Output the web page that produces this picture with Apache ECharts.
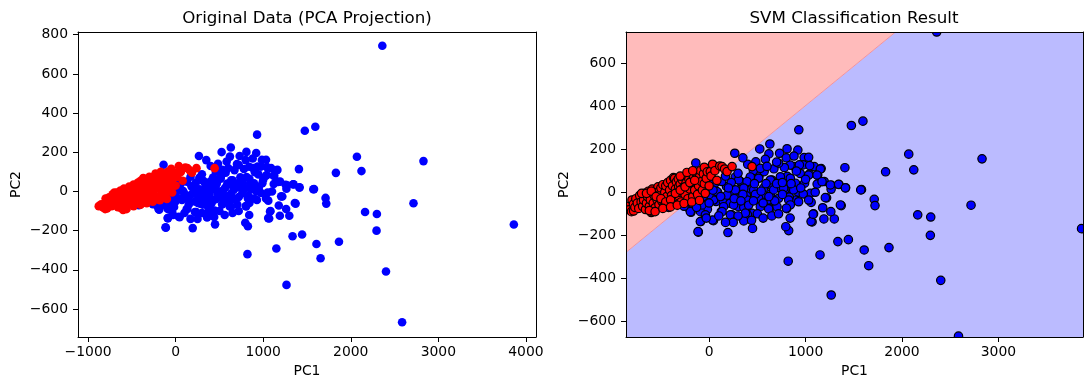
<!DOCTYPE html>
<html><head><meta charset="utf-8">
<script src="https://cdn.jsdelivr.net/npm/echarts@6/dist/echarts.min.js"></script>
<style>html,body{margin:0;padding:0;background:#fff}#c{width:1089px;height:390px}</style>
</head><body><div id="c"></div><script>
// ---- data (PC1, PC2) ----
const bluePoints = [
[2360,744],[1595,330],[1475,310],[930,290],[2070,177],[2830,155],[2122,104],[1830,95],[1408,114],[1580,12],[1712,-33],[1720,-62],[2716,-60],[1370,-62],[2163,-105],[2298,-115],[2294,-200],[3862,-169],[1865,-257],[1608,-268],[1444,-220],[1335,-229],[1655,-341],[2402,-409],[1150,-291],[1266,-477],[820,-320],[2586,-668],
[1068,-138],[1083,-100],[1298,-124],[1190,-124],[1262,-90],[1178,-72],[1218,-26],[1058,-47],[825,-178],[795,-160],[840,-120],[805,-76],[450,-168],[195,-187],[-112,-185],[45,-132],[-88,-136],[-138,136],[266,181],
[525,201],[630,224],[620,178],[731,181],[808,202],[920,196],[985,161],[975,127],[885,119],[840,126],[780,115],[672,109],[484,141],[1090,119],[1162,110],[1040,84],[1126,80],[810,74],[945,87],[990,42],[1120,38],[1193,50],[1270,32],[1345,36],[1415,21],[1265,14],[895,42],[790,14],[860,14],[925,0],[1050,-5],[976,-8],[893,-36],[831,-22],[730,22],[650,57],[654,26],[636,-9],[549,-20],[513,-31],[614,-50],[632,-78],[517,76],[426,65],[459,101],[571,96],[387,26],[325,50],[271,70],[434,11],[387,-17],[325,14],[271,-12],[217,3],[181,26],[130,50],[61,42],[90,-2],[72,-43],[145,-40],[217,-51],[282,-62],[235,-105],[126,-90],[-18,-79],[-90,-90],[-188,-93],[-210,-74],[-36,-36],[-108,-48],[445,-98],[380,-82],[361,-129],[398,-105],[307,-67],[-412,-67],
[583,153],[531,111],[427,71],[306,57],[393,49],[514,65],[635,57],[739,72],[842,65],[1032,80],[272,11],[359,19],[462,11],[565,19],[669,11],[773,19],[877,11],[186,-13],[289,-28],[393,-36],[514,-28],[617,-36],[721,-28],[825,-36],[928,-44],[1032,-36],[150,-67],[254,-59],[359,-70],[531,-67],[704,-67],[842,-59],[721,135],[1032,162],[1043,124],[936,127],
[1153,108],[1119,80],[1171,49],[1257,34],[1343,37],[1413,20],[1572,11],[1205,-25],[1361,-59],
[220,-105],[359,-133],[134,-90],[376,-97],[617,-77],[801,-74],[1057,-136],[1078,-102],
[-91,-136],[-115,-183],[36,-129],[-39,-105],[-195,-90],
[57,42],[82,3],[-22,3],[47,-36],[-74,-59],[-177,-51],[-420,-70],[-300,-40],[-250,-20],[-150,-10],[-60,20],[0,-10],[-350,-55],[-260,-65],
[20,60],[170,75],[230,45],[300,88],[350,-10],[410,-60],[470,40],[480,-10],[560,-50],[590,40],[700,40],[680,-40],[760,-10],[760,45],[850,40],[905,98],[950,20],[1000,60],[1100,0],[600,120],[400,130],[350,160],[120,-20],[40,10],[0,-50],[500,-100],[560,-120],[300,-110],[250,-140],[170,-140],[-30,-120],[650,-110],[720,-100],[700,140],[800,160],[880,168],[460,-40],[540,5],[620,-20],[200,20],[260,-30],[330,-40],[440,-130],[100,-110],[-130,-70],[-60,-20]
];
const redPoints = [
[-878,-75],[-850,-65],[-830,-82],[-805,-90],[-800,-36],[-783,-87],[-785,-55],[-770,-70],[-760,-30],[-745,-50],[-730,-75],[-720,-15],[-705,-45],[-690,-65],[-680,-36],[-670,-5],[-660,-80],[-650,-50],[-640,-20],[-630,5],[-620,-65],[-610,-35],[-600,-94],[-592,-90],[-590,15],[-580,-50],[-570,-15],[-560,-72],[-550,10],[-540,-35],[-530,25],[-524,3],[-520,-58],[-510,-10],[-500,20],[-490,-42],[-480,35],[-470,-62],[-460,0],[-450,30],[-444,-28],[-440,-20],[-430,45],[-420,-50],[-410,10],[-400,55],[-390,-15],[-380,30],[-370,68],[-360,-40],[-358,65],[-350,15],[-340,48],[-330,-22],[-320,62],[-316,26],[-316,-17],[-310,0],[-300,38],[-290,-45],[-280,58],[-270,20],[-260,72],[-250,-10],[-240,42],[-230,80],[-220,-30],[-210,60],[-200,15],[-195,46],[-190,88],[-180,40],[-170,-20],[-160,72],[-150,10],[-140,52],[-133,84],[-130,92],[-120,-10],[-110,30],[-100,72],[-90,100],[-80,50],[-70,10],[-60,85],[-50,116],[-50,40],[-40,-5],[-30,65],[-20,95],[0,30],[12,96],[20,75],[36,130],[60,100],[80,55],[110,122],[134,119],[160,108],[186,96],[238,119],[445,119],
[-700,-5],[-650,-5],[-600,5],[-550,-20],[-500,-30],[-450,-45],[-400,-35],[-350,-5],[-300,10],[-250,25],[-200,45],[-150,55],[-620,-85],[-560,-90],[-480,-75],[-400,-68],[-330,-60],[-260,-52],[-180,-45],[-100,-38],[-300,75],[-230,92],[-170,100]
];
const leftXTicks = [-1000,0,1000,2000,3000,4000];
const leftYTicks = [-600,-400,-200,0,200,400,600,800];
const rightXTicks = [0,1000,2000,3000];
const rightYTicks = [-600,-400,-200,0,200,400,600];
const leftXRange = [-1115, 4115];
const leftYRange = [-743, 814];
const rightXRange = [-862, 3877];
const rightYRange = [-672, 744];
const boundaryLine = [[-862,-279],[1933,744]];   // SVM decision boundary (edge to edge)

const FONT = 'DejaVu Sans';
const fmt = v => String(v).replace('-', '\u2212');
const txt = {fontFamily: FONT, fontSize: 13.9, color: '#000'};

function mainX(grid, range, ticks) {
  return {type:'value', gridIndex:grid, min:range[0], max:range[1], position:'bottom', z:10,
    name:'PC1', nameLocation:'middle', nameGap:27, nameTextStyle:txt,
    axisLine:{show:true, onZero:false, lineStyle:{color:'#000', width:1}},
    axisTick:{show:true, inside:false, length:5, customValues:ticks, lineStyle:{color:'#000', width:1}},
    axisLabel:Object.assign({show:true, customValues:ticks, formatter:fmt, margin:8}, txt),
    splitLine:{show:false}};
}
function mainY(grid, range, ticks) {
  return {type:'value', gridIndex:grid, min:range[0], max:range[1], position:'left', z:10,
    name:'PC2', nameLocation:'middle', nameGap:55, nameTextStyle:txt,
    axisLine:{show:true, onZero:false, lineStyle:{color:'#000', width:1}},
    axisTick:{show:true, inside:false, length:5, customValues:ticks, lineStyle:{color:'#000', width:1}},
    axisLabel:Object.assign({show:true, customValues:ticks, formatter:fmt, margin:10}, txt),
    splitLine:{show:false}};
}
function frame(type, grid, range, pos) {
  return {type:'value', gridIndex:grid, min:range[0], max:range[1], position:pos, z:10,
    axisLine:{show:true, onZero:false, lineStyle:{color:'#000', width:1}},
    axisTick:{show:false}, axisLabel:{show:false}, splitLine:{show:false}};
}

const redPoly = [[rightXRange[0], rightYRange[1]], boundaryLine[0], boundaryLine[1]];
const bluePoly = [boundaryLine[0], [rightXRange[0], rightYRange[0]], [rightXRange[1], rightYRange[0]], [rightXRange[1], rightYRange[1]], boundaryLine[1]];

function dot(fill) {
  return (params, api) => {
    const c = api.coord([api.value(0), api.value(1)]);
    return {type:'circle', shape:{cx:c[0], cy:c[1], r:4.2}, style:{fill:fill, stroke:'#000', lineWidth:1.2}};
  };
}

const chart = echarts.init(document.getElementById('c'), null, {renderer:'canvas'});
chart.setOption({
  animation:false,
  backgroundColor:'#fff',
  title:[
    {text:'Original Data (PCA Projection)', left:307, top:10, padding:0, textAlign:'center',
     textStyle:{fontFamily:FONT, fontSize:16.7, fontWeight:'normal', color:'#000'}},
    {text:'SVM Classification Result', left:854, top:10, padding:0, textAlign:'center',
     textStyle:{fontFamily:FONT, fontSize:16.7, fontWeight:'normal', color:'#000'}}
  ],
  grid:[
    {left:78, right:553, top:32, bottom:53, show:false},
    {left:626, right:6, top:32, bottom:53, show:false}
  ],
  xAxis:[ mainX(0, leftXRange, leftXTicks), frame('x',0,leftXRange,'top'),
          mainX(1, rightXRange, rightXTicks), frame('x',1,rightXRange,'top') ],
  yAxis:[ mainY(0, leftYRange, leftYTicks), frame('y',0,leftYRange,'right'),
          mainY(1, rightYRange, rightYTicks), frame('y',1,rightYRange,'right') ],
  series:[
    {type:'scatter', xAxisIndex:0, yAxisIndex:0, data:bluePoints, symbolSize:8.6, z:2,
     itemStyle:{color:'#0000ff', opacity:1}, silent:true},
    {type:'scatter', xAxisIndex:0, yAxisIndex:0, data:redPoints, symbolSize:8.6, z:3,
     itemStyle:{color:'#ff0000', opacity:1}, silent:true},
    {type:'custom', xAxisIndex:2, yAxisIndex:2, clip:true, z:1, silent:true, data:[[0,0]],
     renderItem:(params, api) => ({type:'group', children:[
       {type:'polygon', shape:{points:bluePoly.map(p => api.coord(p))}, style:{fill:'#bbbbff'}},
       {type:'polygon', shape:{points:redPoly.map(p => api.coord(p))}, style:{fill:'#ffbbbb'}},
       {type:'polyline', shape:{points:boundaryLine.map(p => api.coord(p))}, style:{stroke:'#f2939d', lineWidth:1, fill:null}}
     ]})},
    {type:'custom', xAxisIndex:2, yAxisIndex:2, clip:true, z:2, silent:true, data:bluePoints, renderItem:dot('#0000ff')},
    {type:'custom', xAxisIndex:2, yAxisIndex:2, clip:true, z:3, silent:true, data:redPoints, renderItem:dot('#ff0000')}
  ]
});
</script></body></html>
